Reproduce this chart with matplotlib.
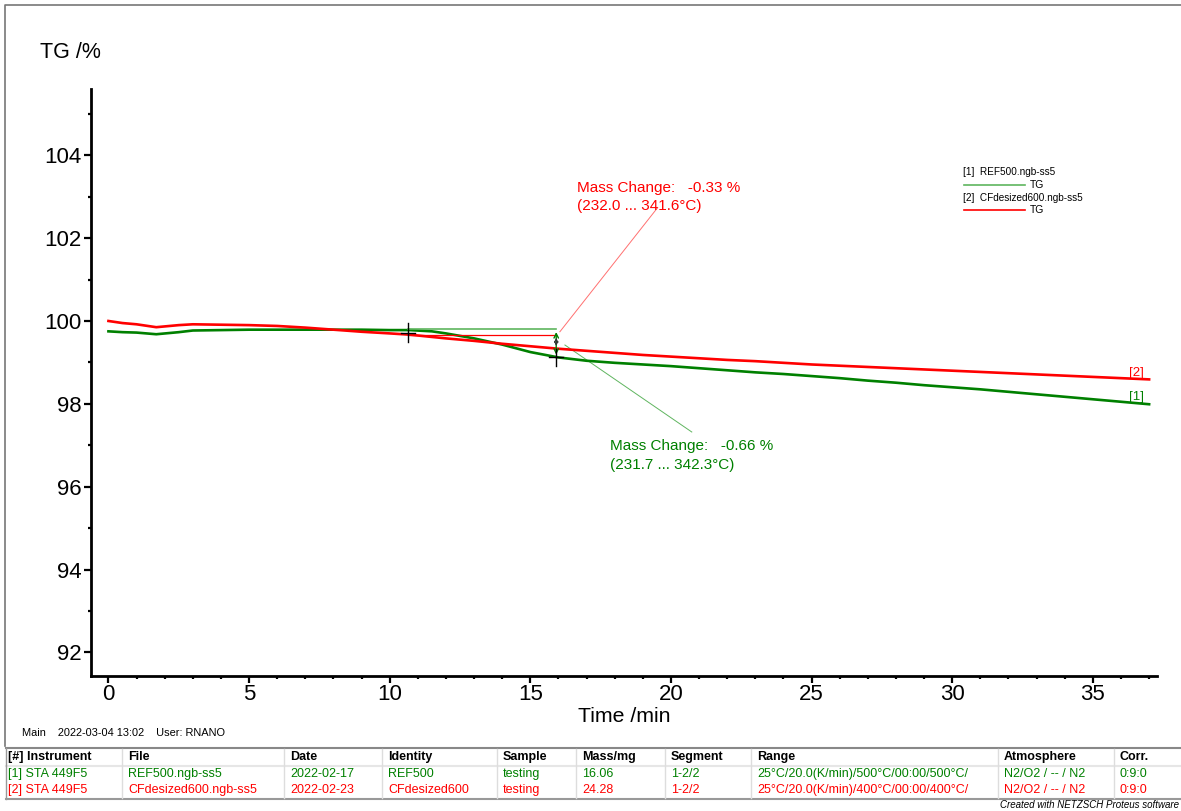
import matplotlib.pyplot as plt
from matplotlib.lines import Line2D
from matplotlib.ticker import MultipleLocator

plt.rcParams['font.family'] = ['Liberation Sans', 'DejaVu Sans']

W, H = 1181, 811

# TG curves (time in min, mass in %)
t_ref = [0, 0.5, 1, 1.7, 2.5, 3, 4, 5, 6, 7, 8, 9, 10, 10.7, 11.5, 12, 13, 14, 15, 16,
         17, 18, 19, 20, 21, 22, 23, 24, 25, 26, 27, 28, 29, 30, 31, 32, 33, 34, 35, 36, 37]
tg_ref = [99.75, 99.73, 99.72, 99.68, 99.73, 99.77, 99.78, 99.79, 99.79, 99.79, 99.79, 99.79,
          99.78, 99.78, 99.75, 99.70, 99.58, 99.43, 99.25, 99.12, 99.04, 98.99, 98.95, 98.91,
          98.86, 98.81, 98.76, 98.72, 98.67, 98.62, 98.56, 98.51, 98.45, 98.40, 98.35, 98.29,
          98.23, 98.17, 98.11, 98.05, 97.99]
t_cf = [0, 0.5, 1, 1.7, 2.5, 3, 4, 5, 6, 7, 8, 9, 10, 10.7, 12, 13, 14, 15, 16, 17, 18, 19,
        20, 21, 22, 23, 24, 25, 26, 27, 28, 29, 30, 31, 32, 33, 34, 35, 36, 37]
tg_cf = [100.0, 99.95, 99.92, 99.85, 99.90, 99.92, 99.91, 99.90, 99.88, 99.84, 99.79, 99.74,
         99.70, 99.67, 99.58, 99.52, 99.45, 99.39, 99.33, 99.28, 99.23, 99.18, 99.14, 99.10,
         99.06, 99.03, 98.99, 98.95, 98.92, 98.89, 98.86, 98.83, 98.80, 98.77, 98.74, 98.71,
         98.68, 98.65, 98.62, 98.59]

# mass change evaluation: start/end time and levels
mc_t = [10.65, 15.92]
mc_ref = [99.80, 99.12]
mc_cf = [99.66, 99.33]

table_head = ["[#] Instrument", "File", "Date", "Identity", "Sample", "Mass/mg",
              "Segment", "Range", "Atmosphere", "Corr."]
table_rows = [
    ["[1] STA 449F5", "REF500.ngb-ss5", "2022-02-17", "REF500", "testing", "16.06",
     "1-2/2", "25°C/20.0(K/min)/500°C/00:00/500°C/", "N2/O2 / -- / N2", "0:9:0"],
    ["[2] STA 449F5", "CFdesized600.ngb-ss5", "2022-02-23", "CFdesized600", "testing", "24.28",
     "1-2/2", "25°C/20.0(K/min)/400°C/00:00/400°C/", "N2/O2 / -- / N2", "0:9:0"],
]
col_x = [8, 128, 290, 388, 503, 582, 671, 757, 1004, 1120]
sep_x = [122, 284, 382, 497, 576, 665, 751, 998, 1114]

GREEN = "#008000"
RED = "#ff0000"
LGREEN = "#5fb55f"
LRED = "#ff7070"


def fx(x):
    return x / W


def fy(y):
    return 1 - y / H


fig = plt.figure(figsize=(W / 100, H / 100), dpi=100)
ax = fig.add_axes([fx(91), fy(676), (1157 - 91) / W, (676 - 89) / H])

ax.plot(t_ref, tg_ref, color=GREEN, lw=1.9, zorder=3)
ax.plot(t_cf, tg_cf, color=RED, lw=1.9, zorder=3)

ax.set_xlim(-0.62, 37.28)
ax.set_ylim(91.43, 105.6)
for s in ["top", "right"]:
    ax.spines[s].set_visible(False)
for s in ["left", "bottom"]:
    ax.spines[s].set_linewidth(2)
ax.xaxis.set_major_locator(MultipleLocator(5))
ax.xaxis.set_minor_locator(MultipleLocator(1))
ax.yaxis.set_major_locator(MultipleLocator(2))
ax.yaxis.set_minor_locator(MultipleLocator(1))
ax.tick_params(which="major", length=5, width=1.6, labelsize=16)
ax.tick_params(axis="x", which="major", pad=0.5)
ax.tick_params(axis="y", which="major", pad=1.5)
ax.tick_params(which="minor", length=2.5, width=1.6)

# evaluation lines
ax.plot(mc_t, [mc_ref[0], mc_ref[0]], color=LGREEN, lw=1.2, zorder=4)
ax.plot(mc_t, [mc_cf[0], mc_cf[0]], color=RED, lw=0.9, zorder=4)
ax.annotate("", xy=(mc_t[1], mc_ref[1]), xytext=(mc_t[1], mc_ref[0]),
            arrowprops=dict(arrowstyle="<->", color=GREEN, lw=1.0, mutation_scale=8), zorder=5)
ax.annotate("", xy=(mc_t[1], mc_cf[1]), xytext=(mc_t[1], mc_cf[0]),
            arrowprops=dict(arrowstyle="<->", color="#333333", lw=0.8, mutation_scale=6), zorder=5)
ax.plot([mc_t[0]] * 2, [mc_ref[0] - 0.3, mc_ref[0] + 0.15], color="black", lw=1.0, zorder=6)
ax.plot([mc_t[0] - 0.25, mc_t[0] + 0.25], [99.72, 99.72], color="black", lw=1.0, zorder=6)
ax.plot([mc_t[1]] * 2, [mc_ref[1] - 0.2, mc_ref[1] + 0.2], color="black", lw=1.0, zorder=6)
ax.plot([mc_t[1] - 0.25, mc_t[1] + 0.25], [mc_ref[1], mc_ref[1]], color="black", lw=1.0, zorder=6)

# labels with leader lines
ax.plot([16.05, 19.53], [99.74, 102.74], color=LRED, lw=0.7)
ax.plot([16.23, 20.74], [99.42, 97.32], color=LGREEN, lw=0.7)
ax.text(16.65, 103.2, "Mass Change:   -0.33 %", color=RED, fontsize=11, va="center")
ax.text(16.65, 102.77, "(232.0 ... 341.6°C)", color=RED, fontsize=11, va="center")
ax.text(17.83, 96.98, "Mass Change:   -0.66 %", color=GREEN, fontsize=11, va="center")
ax.text(17.83, 96.53, "(231.7 ... 342.3°C)", color=GREEN, fontsize=11, va="center")
ax.text(36.3, 98.74, "[2]", color=RED, fontsize=9.5, va="center")
ax.text(36.3, 98.16, "[1]", color=GREEN, fontsize=9.5, va="center")

# axis titles
fig.text(fx(40), fy(53), "TG /%", fontsize=15.5, va="center")
fig.text(fx(624), fy(717), "Time /min", fontsize=15.3, va="center", ha="center")

# legend
fig.text(fx(963), fy(172), "[1]  REF500.ngb-ss5", fontsize=7.2, va="center")
fig.add_artist(Line2D([fx(964), fx(1025)], [fy(185), fy(185)], color=LGREEN, lw=1.2))
fig.text(fx(1030), fy(185), "TG", fontsize=7.5, va="center")
fig.text(fx(963), fy(198), "[2]  CFdesized600.ngb-ss5", fontsize=7.2, va="center")
fig.add_artist(Line2D([fx(964), fx(1025)], [fy(210), fy(210)], color=RED, lw=1.2))
fig.text(fx(1030), fy(210), "TG", fontsize=7.5, va="center")

# frame
fig.add_artist(Line2D([fx(5), fx(5), fx(1181)], [fy(746), fy(5), fy(5)], color="#777777", lw=1.2))

# footer
fig.text(fx(22), fy(733), "Main    2022-03-04 13:02    User: RNANO", fontsize=7.9, va="center")
fig.add_artist(Line2D([fx(6), fx(1181)], [fy(748), fy(748)], color="#888888", lw=1.5))
fig.add_artist(Line2D([fx(6), fx(1181)], [fy(799), fy(799)], color="#999999", lw=1.5))
fig.add_artist(Line2D([fx(6), fx(1181)], [fy(766), fy(766)], color="#e6e6e6", lw=1.5))
fig.add_artist(Line2D([fx(6), fx(6)], [fy(748), fy(799)], color="#999999", lw=1.0))
for sx in sep_x:
    fig.add_artist(Line2D([fx(sx), fx(sx)], [fy(749), fy(798)], color="#dddddd", lw=1.0))
for x, txt in zip(col_x, table_head):
    fig.text(fx(x), fy(757), txt, fontsize=9, fontweight="bold", va="center")
for row, yy, c in zip(table_rows, [774, 790], [GREEN, RED]):
    for x, txt in zip(col_x, row):
        fig.text(fx(x), fy(yy), txt, fontsize=9, va="center", color=c)
fig.text(fx(1179), fy(805), "Created with NETZSCH Proteus software", fontsize=7,
         style="italic", va="center", ha="right")

fig.savefig("out.png", dpi=100)
